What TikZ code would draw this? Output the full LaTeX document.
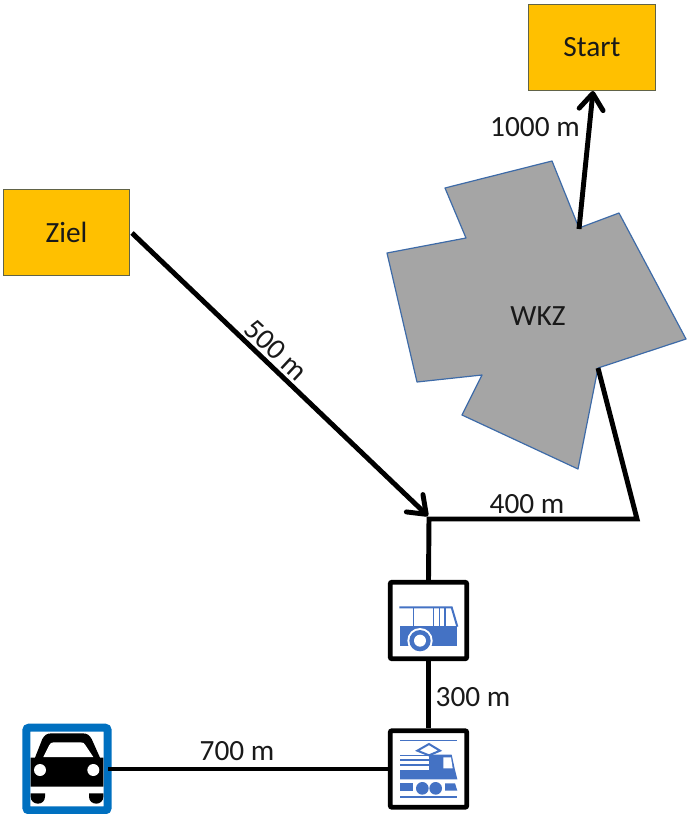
\documentclass[tikz,border=0pt]{standalone}
\usepackage{fontspec}
\setmainfont{Carlito}
\usetikzlibrary{arrows.meta}
\definecolor{busblue}{HTML}{4472C4}
\definecolor{carblue}{HTML}{0070C0}
\definecolor{gold}{HTML}{FFC000}
\definecolor{wkzgray}{HTML}{A5A5A5}
\definecolor{wkzedge}{HTML}{3E6BA8}
\tikzset{
 x=0.75pt,y=-0.75pt,
 lbl/.style={font=\fontsize{22pt}{24pt}\selectfont,text=black!90,inner sep=0pt},
 goal/.style={draw=wkzedge!60!gold!70!black,line width=0.7pt,fill=gold,font=\fontsize{22pt}{24pt}\selectfont,text=black!90,minimum width=95pt,minimum height=64.5pt,inner sep=0pt},
 link/.style={line width=3.7pt,draw=black,line join=miter},
 head/.style={-{Straight Barb[round,length=12pt,width=18pt,line width=3.7pt]}},
 iconbox/.style={draw=black,line width=3.6pt,rounded corners=1.5pt,fill=white,minimum width=57.5pt,minimum height=57.5pt,inner sep=0pt},
 carbox/.style={draw=carblue,line width=6pt,rounded corners=2pt,fill=white,minimum width=61pt,minimum height=62pt,inner sep=0pt},
}
\begin{document}
\begin{tikzpicture}
\useasboundingbox (0,0) rectangle (688,814);
% building
\draw[fill=wkzgray,draw=wkzedge,line width=0.9pt,line join=round]
 (552,161)--(579,228)--(619,213)--(686,339)--(598,368)--(578,469)--(462,415)--(482,375)--(417,382)--(387,253)--(466,238)--(445,188)--cycle;
\node[lbl] (wkz) at (538,316) {WKZ};
\coordinate (wkzTop) at (579,229);
\coordinate (wkzBottom) at (598,368);
\coordinate (corner) at (637,519);
\coordinate (junction) at (429,519);
\coordinate (startIn) at (593,91);
\coordinate (zielOut) at (132,233);
\coordinate (junctionIn) at (428,516);
\coordinate (carOut) at (108,769);
% nodes
\node[goal] (start) at (592,47) {Start};
\node[goal] (ziel) at (66.5,232) {Ziel};
\node[iconbox] (bus) at (428.5,620.5) {};
\node[iconbox] (train) at (428.5,769) {};
\node[carbox] (car) at (67,769) {};
% connectors
\draw[link,head] (wkzTop) -- (startIn);
\draw[link,head] (zielOut) -- (junctionIn);
\draw[link] (bus.north) -- (junction) -- (corner) -- (wkzBottom);
\draw[link] (bus.south) -- (train.north);
\draw[link] (carOut) -- (train.west);
% bus icon
\begin{scope}[shift={(380,570)},x=0.25pt,y=-0.25pt]
\draw[busblue,line width=1.5pt] (58,112)--(215,112)--(232,170);
\draw[busblue,line width=1.2pt] (100,112)--(100,170) (160,112)--(160,170) (178,112)--(178,170) (195,112)--(195,170);
\fill[busblue] (60,167)--(232,167)--(232,228)--(60,228)--cycle;
\fill[white] (120,212) circle (38);
\fill[busblue] (120,212) circle (32);
\fill[white] (120,212) circle (18);
\end{scope}
% train icon
\begin{scope}[shift={(380,720)},x=0.25pt,y=-0.25pt]
\draw[busblue,line width=1.2pt] (60,62)--(232,62);
\draw[busblue,line width=1.5pt,line join=miter] (147,72)--(180,92)--(147,106)--(112,92)--cycle;
\fill[busblue] (60,150)--(147,150)--(147,104)--(215,104)--(225,150)--(232,178)--(60,178)--cycle;
\draw[busblue,line width=1.2pt] (60,106)--(147,106) (60,120)--(147,120) (60,135)--(147,135);
\fill[white] (190,112)--(213,112)--(218,145)--(190,145)--cycle;
\fill[busblue] (60,190) rectangle (100,212);
\fill[busblue] (195,190)--(225,190)--(232,212)--(195,212)--cycle;
\fill[busblue] (127,205) circle (19);
\fill[busblue] (167,205) circle (19);
\draw[busblue,line width=1.5pt] (60,230)--(232,230);
\end{scope}
% car icon
\begin{scope}[shift={(10,715)},x=0.25pt,y=-0.25pt]
\fill[black] (62,128)--(75,128)--(97,72) .. controls (104,60) and (110,55) .. (125,55)--(217,55) .. controls (232,55) and (238,60) .. (245,72)--(270,128)--(280,128)--(280,215)--(62,215)--cycle;
\fill[white] (100,126)--(118,90) .. controls (121,84) and (125,82) .. (132,82)--(212,82) .. controls (219,82) and (223,84) .. (226,90)--(250,126)--cycle;
\fill[white] (90,165) circle (18);
\fill[white] (250,165) circle (18);
\fill[black] (62,235)--(105,235)--(105,245) .. controls (105,258) and (95,266) .. (84,266) .. controls (72,266) and (62,258) .. (62,245)--cycle;
\fill[black] (237,235)--(280,235)--(280,245) .. controls (280,258) and (270,266) .. (259,266) .. controls (247,266) and (237,258) .. (237,245)--cycle;
\end{scope}
% labels
\node[lbl] at (535,127) {1000 m};
\node[lbl,rotate=-43] at (276,350) {500 m};
\node[lbl] at (527,504) {400 m};
\node[lbl] at (473,697) {300 m};
\node[lbl] at (237,751) {700 m};
\end{tikzpicture}
\end{document}
